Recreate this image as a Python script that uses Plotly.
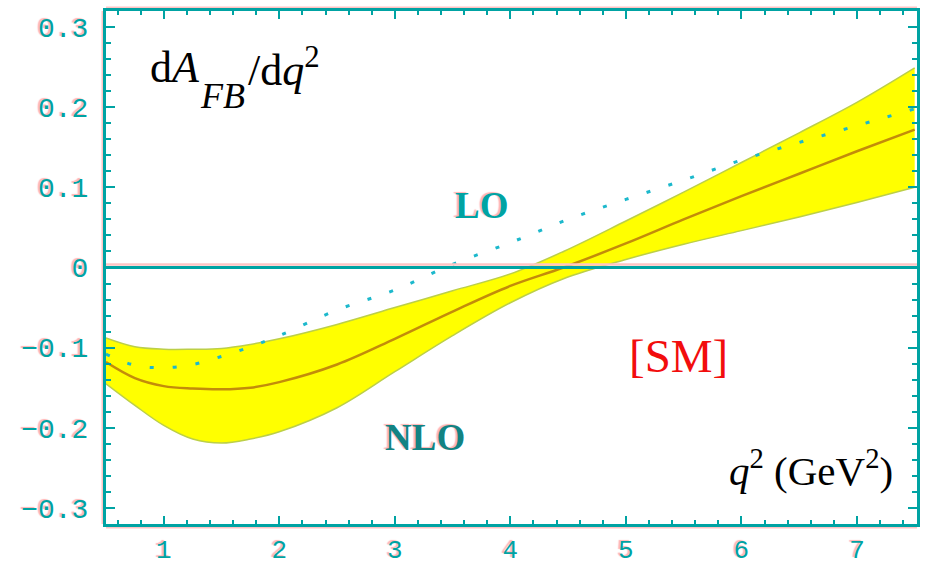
import plotly.graph_objects as go

# ---- data ----
x_nlo = [0.5, 0.75, 1.0, 1.25, 1.5, 1.75, 2.0, 2.5, 3.0, 3.5, 4.0, 4.46, 5.0, 5.5, 6.0, 6.5, 7.0, 7.5]
nlo_central = [-0.118, -0.138, -0.148, -0.151, -0.152, -0.150, -0.143, -0.121, -0.089, -0.055, -0.023, 0.0,
               0.030, 0.060, 0.089, 0.117, 0.145, 0.172]
nlo_upper = [-0.088, -0.099, -0.102, -0.102, -0.101, -0.096, -0.089, -0.071, -0.050, -0.029, -0.008, 0.020,
             0.058, 0.094, 0.131, 0.168, 0.206, 0.249]
nlo_lower = [-0.145, -0.172, -0.197, -0.214, -0.219, -0.214, -0.205, -0.175, -0.130, -0.085, -0.044, -0.014,
             0.010, 0.029, 0.046, 0.063, 0.081, 0.100]

x_lo = [0.5, 0.75, 1.0, 1.25, 1.5, 1.75, 2.0, 2.5, 3.0, 3.5, 4.0, 4.5, 5.0, 5.5, 6.0, 6.5, 7.0, 7.5]
lo_values = [-0.108, -0.122, -0.125, -0.121, -0.111, -0.099, -0.085, -0.053, -0.028, 0.004, 0.031, 0.060,
             0.085, 0.109, 0.134, 0.156, 0.177, 0.198]

x_ticks = [1, 2, 3, 4, 5, 6, 7]
y_ticks = [-0.3, -0.2, -0.1, 0, 0.1, 0.2, 0.3]
y_tick_text = ["\u22120.3", "\u22120.2", "\u22120.1", "0", "0.1", "0.2", "0.3"]

TEAL = "#00a3a3"
PINK = "#ffc4c4"
SHADOW = "-2px -1px 1px #ffb4b4"

fig = go.Figure()

# NLO band
fig.add_trace(go.Scatter(x=x_nlo, y=nlo_upper, mode="lines", line=dict(color="#bccf48", width=1.5, shape="spline"),
                         showlegend=False, hoverinfo="skip"))
fig.add_trace(go.Scatter(x=x_nlo, y=nlo_lower, mode="lines", line=dict(color="#bccf48", width=1.5, shape="spline"),
                         fill="tonexty", fillcolor="#ffff00", showlegend=False, hoverinfo="skip"))
# NLO central
fig.add_trace(go.Scatter(x=x_nlo, y=nlo_central, mode="lines", line=dict(color="#c38c0a", width=2.5, shape="spline"),
                         showlegend=False))
# LO dotted
fig.add_trace(go.Scatter(x=x_lo, y=lo_values, mode="lines",
                         line=dict(color="#1cb8cc", width=3, shape="spline", dash="4px,19px"),
                         showlegend=False))

shapes = []
# zero line with pink ghost above it
shapes.append(dict(type="line", xref="paper", x0=0, x1=1, yref="y", ysizemode="pixel", yanchor=0, y0=3, y1=3,
                   line=dict(color=PINK, width=2.5), layer="above"))
shapes.append(dict(type="line", xref="paper", x0=0, x1=1, yref="y", y0=0, y1=0,
                   line=dict(color=TEAL, width=3), layer="above"))
# pink ghosts of the frame
shapes.append(dict(type="line", xref="paper", xsizemode="pixel", xanchor=0, x0=-3, x1=-3, yref="paper", y0=0, y1=1,
                   line=dict(color=PINK, width=3), layer="below"))
shapes.append(dict(type="line", xref="paper", x0=0, x1=1, yref="paper", ysizemode="pixel", yanchor=1, y0=3, y1=3,
                   line=dict(color=PINK, width=3), layer="below"))
shapes.append(dict(type="line", xref="paper", x0=0, x1=1, yref="paper", ysizemode="pixel", yanchor=0, y0=-3, y1=-3,
                   line=dict(color=PINK, width=3), layer="below"))
fig.update_layout(shapes=shapes)

serif = "Liberation Serif, Times New Roman, serif"
ann = []
# y-axis quantity: dA_FB/dq^2 (subscript placed as in the reference)
ann.append(dict(x=0.864, y=0.250, xref="x", yref="y", xanchor="left", yanchor="middle", showarrow=False,
                text="d<i>A</i>", font=dict(family=serif, size=44, color="black")))
ann.append(dict(x=1.30, y=0.214, xref="x", yref="y", xanchor="left", yanchor="middle", showarrow=False,
                text="<i>FB</i>", font=dict(family=serif, size=36, color="black")))
ann.append(dict(x=1.715, y=0.250, xref="x", yref="y", xanchor="left", yanchor="middle", showarrow=False,
                text="/d<i>q</i><sup>2</sup>", font=dict(family=serif, size=44, color="black")))
ann.append(dict(x=3.747, y=0.0775, xref="x", yref="y", showarrow=False, text="<b>LO</b>",
                font=dict(family=serif, size=37, color=TEAL, shadow=SHADOW)))
ann.append(dict(x=3.262, y=-0.2125, xref="x", yref="y", showarrow=False, text="<b>NLO</b>",
                font=dict(family=serif, size=37, color="#138383", shadow=SHADOW)))
ann.append(dict(x=5.452, y=-0.111, xref="x", yref="y", showarrow=False, text="[SM]",
                font=dict(family=serif, size=47, color="#f20d0d")))
ann.append(dict(x=7.33, y=-0.250, xref="x", yref="y", xanchor="right", yanchor="middle", showarrow=False,
                text="<i>q</i><sup>2</sup> (GeV<sup>2</sup>)",
                font=dict(family=serif, size=41, color="black")))
fig.update_layout(annotations=ann)

ytickfont = dict(family="Liberation Mono, Courier New, monospace", size=28, color=TEAL, shadow=SHADOW)
xtickfont = dict(family="Liberation Mono, Courier New, monospace", size=26, color=TEAL, shadow=SHADOW)
fig.update_xaxes(range=[0.5, 7.52], tickvals=x_ticks, ticktext=[str(v) for v in x_ticks], automargin=False,
                 showgrid=False, zeroline=False, showline=True, linecolor=TEAL, linewidth=3, mirror="allticks",
                 ticks="inside", ticklen=8, tickwidth=2, tickcolor=TEAL, tickfont=xtickfont, ticklabelstandoff=0,
                 minor=dict(dtick=0.2, tick0=0, ticks="inside", ticklen=4, tickwidth=2, tickcolor=TEAL))
fig.update_yaxes(range=[-0.32, 0.32], tickvals=y_ticks, ticktext=y_tick_text, automargin=False,
                 showgrid=False, zeroline=False, showline=True, linecolor=TEAL, linewidth=3, mirror="allticks",
                 ticks="inside", ticklen=9, tickwidth=2, tickcolor=TEAL, tickfont=ytickfont, ticklabelstandoff=9,
                 minor=dict(dtick=0.02, tick0=0, ticks="inside", ticklen=5, tickwidth=2, tickcolor=TEAL))

fig.update_layout(width=927, height=569, margin=dict(l=106, r=10, t=11, b=45),
                  paper_bgcolor="white", plot_bgcolor="white", showlegend=False)

fig.write_html("out.html")
